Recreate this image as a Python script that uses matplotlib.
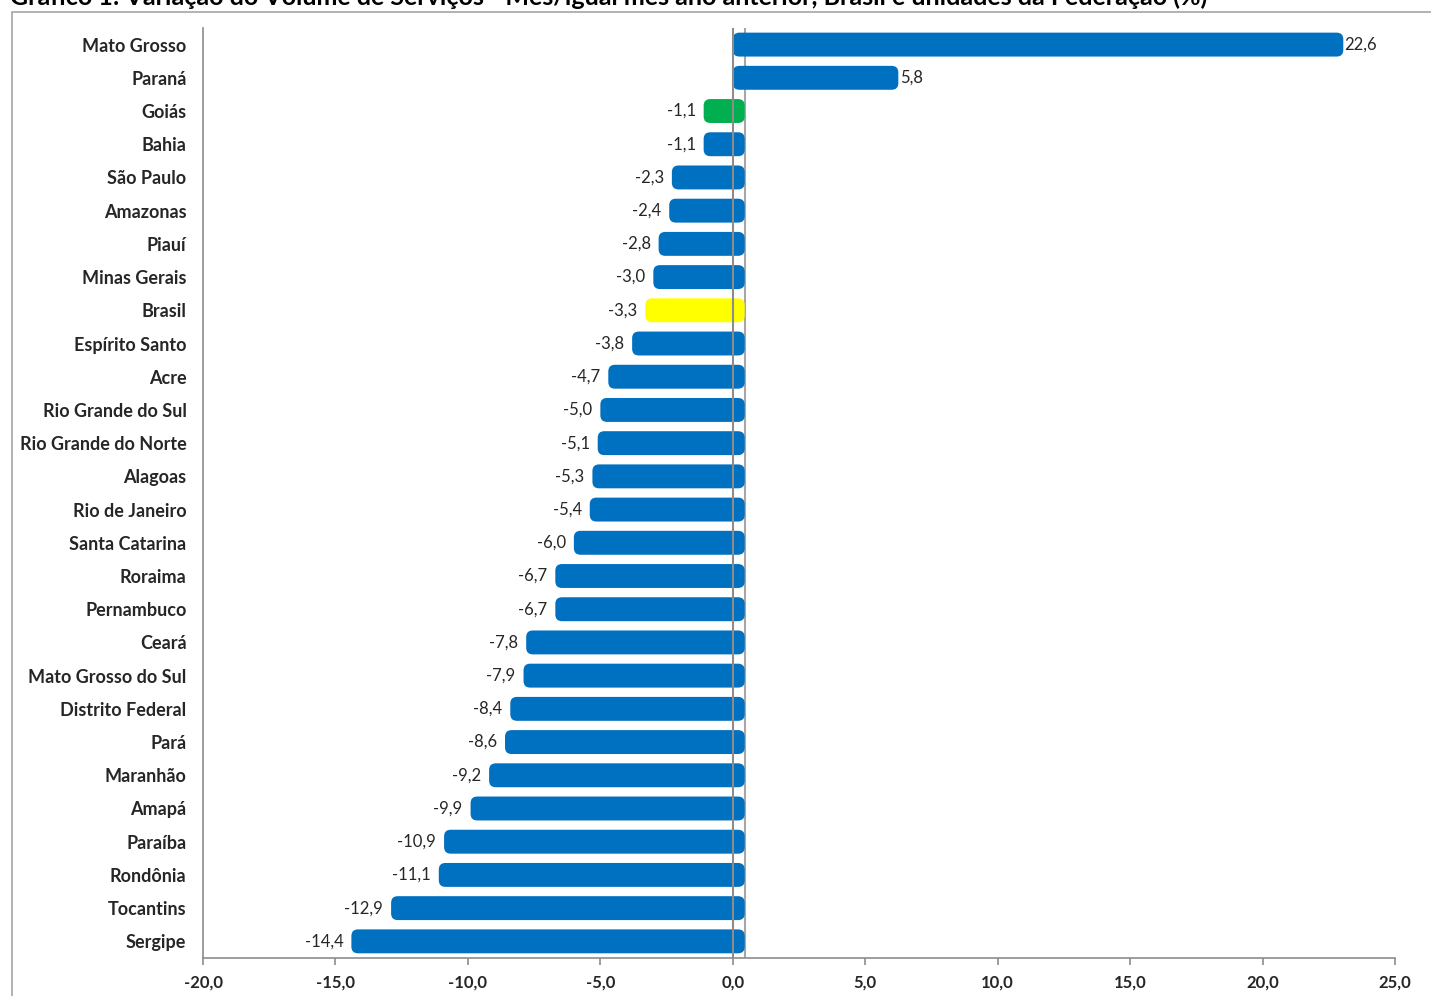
import numpy as np
import matplotlib.pyplot as plt
from matplotlib.patches import Rectangle, FancyBboxPatch

plt.rcParams['font.family'] = ['Lato', 'DejaVu Sans']

estados = ['Mato Grosso', 'Paraná', 'Goiás', 'Bahia', 'São Paulo', 'Amazonas',
           'Piauí', 'Minas Gerais', 'Brasil', 'Espírito Santo', 'Acre',
           'Rio Grande do Sul', 'Rio Grande do Norte', 'Alagoas', 'Rio de Janeiro',
           'Santa Catarina', 'Roraima', 'Pernambuco', 'Ceará', 'Mato Grosso do Sul',
           'Distrito Federal', 'Pará', 'Maranhão', 'Amapá', 'Paraíba', 'Rondônia',
           'Tocantins', 'Sergipe']
variacao = [22.6, 5.8, -1.1, -1.1, -2.3, -2.4, -2.8, -3.0, -3.3, -3.8, -4.7,
            -5.0, -5.1, -5.3, -5.4, -6.0, -6.7, -6.7, -7.8, -7.9, -8.4, -8.6,
            -9.2, -9.9, -10.9, -11.1, -12.9, -14.4]
xticks = [-20, -15, -10, -5, 0, 5, 10, 15, 20, 25]

BLUE = '#0070C0'
DEPTH = 0.45  # fake 3D depth of the excel bars

cores = []
for e in estados:
    if e == 'Goiás':
        cores.append('#00B050')
    elif e == 'Brasil':
        cores.append('#FFFF00')
    else:
        cores.append(BLUE)

fig = plt.figure(figsize=(14.31, 9.96), dpi=100)
ax = fig.add_axes([0.1419, 0.0382, 0.8329, 0.9337])

y = np.arange(len(estados))
v = np.array(variacao)
left = np.where(v < 0, v, 0)
width = np.abs(v) + DEPTH
bars = ax.barh(y, width, left=left, height=0.72, color=cores, zorder=2)

# swap the plain rectangles for slightly rounded ones
for b, c in zip(bars, cores):
    b.set_visible(False)
    ax.add_patch(FancyBboxPatch((b.get_x(), b.get_y()), b.get_width(), b.get_height(),
                                boxstyle='round,pad=0,rounding_size=0.25',
                                mutation_aspect=0.8, fc=c, ec='none', zorder=2))

ax.axvline(0, color='#8c8c8c', lw=1.5, zorder=3)
ax.axvline(DEPTH, color='#a6a6a6', lw=1.5, zorder=1)

for yi, val in zip(y, v):
    txt = f'{val:.1f}'.replace('.', ',')
    if val >= 0:
        ax.text(val + DEPTH + 0.05, yi, txt, va='center', ha='left',
                fontsize=12, color='#262626')
    else:
        ax.text(val - 0.3, yi, txt, va='center', ha='right',
                fontsize=12, color='#262626')

ax.set_xlim(-20, 25)
ax.set_ylim(len(estados) - 0.5, -0.5)
ax.set_xticks(xticks)
ax.set_xticklabels([f'{t:.1f}'.replace('.', ',') for t in xticks],
                   fontsize=12, fontweight='bold', color='#262626')
ax.set_yticks(y)
ax.set_yticklabels(estados, fontsize=13, fontweight='bold', color='#262626')
ax.tick_params(axis='y', length=0, pad=12)
ax.tick_params(axis='x', length=5, color='#8c8c8c', width=1.2, pad=7)

for s in ['top', 'right']:
    ax.spines[s].set_visible(False)
for s in ['left', 'bottom']:
    ax.spines[s].set_color('#8c8c8c')
    ax.spines[s].set_linewidth(1.2)

# outer chart border
fig.patches.append(Rectangle((12 / 1431, -0.1), 1.2, 1.1 - 12 / 996,
                             transform=fig.transFigure, fill=False,
                             edgecolor='#a6a6a6', lw=1.2))

# title is cut at the top edge, as in the source image
fig.text(0.007, 1 - 5 / 996, 'Gráfico 1: Variação do Volume de Serviços - Mês/igual mês ano anterior, '
         'Brasil e unidades da Federação (%)', fontsize=18, fontweight='bold',
         va='baseline', ha='left')

fig.savefig('out.png', dpi=100)
